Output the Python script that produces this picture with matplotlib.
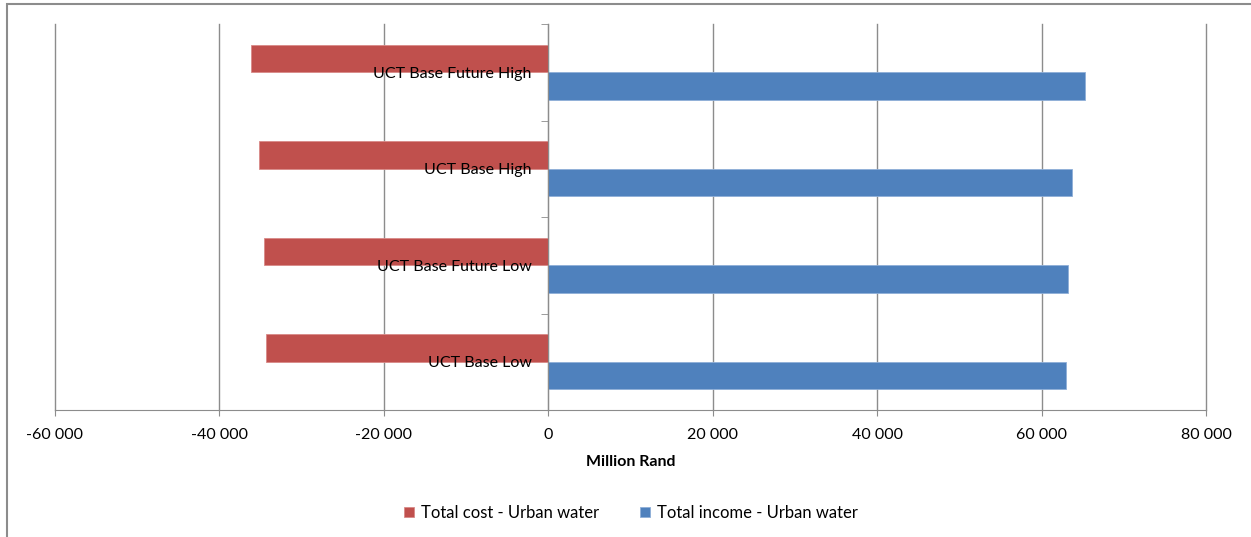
import matplotlib.pyplot as plt
from matplotlib.patches import Rectangle
from matplotlib.ticker import FuncFormatter, FixedLocator

# scenarios, bottom to top
scenarios = ['UCT Base Low', 'UCT Base Future Low', 'UCT Base High', 'UCT Base Future High']
total_cost = [-34300, -34550, -35150, -36150]
total_income = [63000, 63250, 63750, 65300]
x_ticks = [-60000, -40000, -20000, 0, 20000, 40000, 60000, 80000]

red = '#C0504D'
blue = '#4F81BD'
grey = '#8C8C8C'

plt.rcParams['font.family'] = ['Lato', 'DejaVu Sans']

fig = plt.figure(figsize=(12.51, 5.37), dpi=100)
ax = fig.add_axes([55 / 1251, 1 - 410 / 537, 1151 / 1251, 386 / 537])

pos = list(range(len(scenarios)))
h = 0.285
ax.barh([p + h / 2 for p in pos], total_cost, height=h, color=red,
        edgecolor='#D98A88', linewidth=0.6, label='Total cost - Urban water', zorder=1)
ax.barh([p - h / 2 for p in pos], total_income, height=h, color=blue,
        edgecolor='#8FAFD8', linewidth=0.6, label='Total income - Urban water', zorder=1)

# vertical gridlines behind the bars
for xt in x_ticks:
    ax.axvline(xt, color=grey, lw=1, zorder=0, clip_on=False)

ax.set_xlim(-60000, 80000)
ax.set_ylim(-0.5, len(scenarios) - 0.5)
ax.set_xticks(x_ticks)
ax.xaxis.set_major_formatter(FuncFormatter(lambda v, p: f'{int(v):,}'.replace(',', ' ')))
ax.tick_params(axis='x', length=4, color=grey, labelsize=11.5, pad=9)

# category axis sits at zero
ax.spines['left'].set_position(('data', 0))
ax.spines['left'].set_color(grey)
ax.spines['bottom'].set_color(grey)
ax.spines['top'].set_visible(False)
ax.spines['right'].set_visible(False)
ax.set_yticks(pos)
ax.set_yticklabels(scenarios)
ax.yaxis.set_minor_locator(FixedLocator([p - 0.5 for p in pos] + [len(pos) - 0.5]))
ax.tick_params(axis='y', which='major', length=0, labelsize=11.5, pad=12)
ax.tick_params(axis='y', which='minor', length=5, color=grey)

ax.set_xlabel('Million Rand', fontsize=11.5, fontweight='bold', labelpad=9)

fig.legend(loc='center', bbox_to_anchor=(631 / 1251, 1 - 513 / 537), ncol=2,
           frameon=False, fontsize=12, handlelength=0.6, handleheight=0.6,
           handletextpad=0.4, columnspacing=2.5)

# outer chart frame (left and top edges visible)
fig.patches.append(Rectangle((7 / 1251, -0.1), 1.2, 1 - 4 / 537 + 0.1, transform=fig.transFigure,
                             fill=False, edgecolor=grey, lw=1.5, clip_on=False))

fig.savefig('out.png', dpi=100)
